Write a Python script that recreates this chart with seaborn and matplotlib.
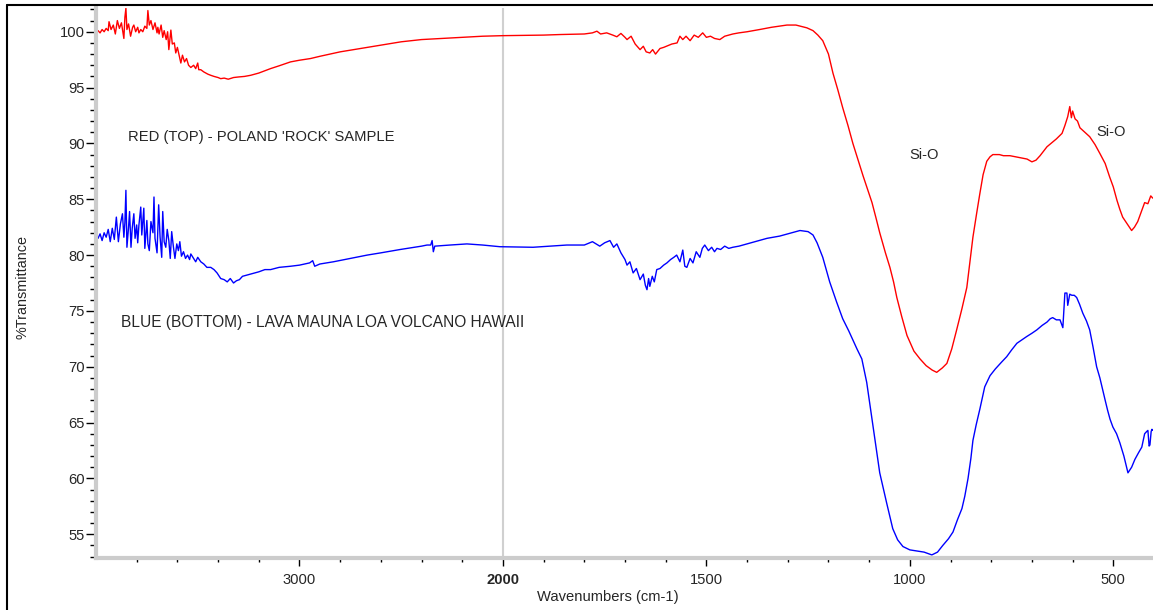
import numpy as np
import pandas as pd
import seaborn as sns
import matplotlib.pyplot as plt
from matplotlib.lines import Line2D

# FTIR spectra: wavenumber (cm-1) and %Transmittance
red_wn = [4000, 3990, 3980, 3970, 3960, 3950, 3940, 3936, 3926, 3915,
          3905, 3895, 3885, 3875, 3863, 3858, 3853, 3848, 3840, 3830,
          3820, 3814, 3805, 3795, 3789, 3780, 3770, 3760, 3750, 3745,
          3738, 3730, 3720, 3710, 3700, 3696, 3690, 3680, 3672, 3665,
          3655, 3648, 3642, 3632, 3625, 3615, 3608, 3600, 3590, 3583,
          3575, 3565, 3555, 3545, 3534, 3520, 3510, 3500, 3495, 3485,
          3470, 3450, 3436, 3420, 3400, 3387, 3370, 3350, 3324, 3300,
          3270, 3240, 3200, 3142, 3100, 3044, 3000, 2946, 2900, 2800,
          2700, 2600, 2500, 2400, 2300, 2200, 2100, 2000, 1900, 1860,
          1800, 1780, 1769, 1760, 1745, 1730, 1720, 1710, 1700, 1695,
          1685, 1675, 1663, 1655, 1648, 1639, 1632, 1625, 1614, 1605,
          1595, 1585, 1572, 1565, 1558, 1550, 1540, 1530, 1520, 1509,
          1500, 1490, 1480, 1467, 1455, 1445, 1435, 1420, 1400, 1369,
          1340, 1302, 1280, 1253, 1238, 1226, 1214, 1200, 1189, 1177,
          1165, 1152, 1140, 1127, 1115, 1104, 1093, 1083, 1074, 1060,
          1049, 1040, 1032, 1020, 1007, 990, 975, 960, 945, 934,
          920, 909, 897, 885, 872, 860, 852, 845, 836, 828,
          820, 811, 803, 796, 780, 770, 754, 740, 725, 712,
          700, 690, 680, 663, 650, 640, 626, 619, 612, 607,
          603, 600, 594, 588, 582, 570, 558, 545, 533, 520,
          509, 500, 491, 484, 477, 466, 455, 448, 440, 432,
          423, 415, 408, 403]
red_t = [100.0, 100.1, 99.9, 100.2, 100.0, 100.3, 100.1, 100.9, 100.2, 100.6,
         99.8, 101.0, 100.3, 100.8, 99.4, 101.3, 102.1, 100.2, 100.7, 99.6,
         100.4, 100.6, 100.0, 100.4, 99.9, 100.2, 100.0, 100.5, 100.3, 101.9,
         100.6, 101.0, 100.2, 100.8, 99.9, 100.4, 99.8, 100.6, 99.5, 100.1,
         99.3, 100.0, 98.4, 100.15, 98.9, 99.0, 98.1, 98.6, 97.8, 97.2,
         97.9, 97.3, 97.6, 97.0, 96.8, 97.0, 96.7, 97.2, 96.6, 96.6,
         96.4, 96.2, 96.1, 96.0, 95.9, 95.8, 95.85, 95.75, 95.9, 95.95,
         96.0, 96.1, 96.3, 96.7, 96.95, 97.3, 97.45, 97.6, 97.8, 98.2,
         98.5, 98.8, 99.1, 99.3, 99.4, 99.5, 99.6, 99.65, 99.7, 99.75,
         99.8, 99.9, 100.05, 99.8, 99.9, 99.7, 99.55, 99.85, 99.5, 99.3,
         99.6, 98.9, 98.4, 98.7, 98.2, 98.1, 98.4, 98.0, 98.5, 98.6,
         98.75, 98.9, 99.0, 99.6, 99.3, 99.6, 99.2, 99.7, 99.5, 99.9,
         99.5, 99.6, 99.4, 99.3, 99.6, 99.7, 99.8, 99.9, 100.0, 100.2,
         100.4, 100.6, 100.6, 100.35, 100.1, 99.7, 99.2, 98.0, 96.3, 94.8,
         93.2, 91.6, 90.0, 88.5, 87.1, 85.9, 84.7, 83.3, 82.0, 80.2,
         78.9, 77.6, 76.2, 74.5, 72.8, 71.4, 70.7, 70.1, 69.7, 69.5,
         69.9, 70.3, 71.6, 73.3, 75.2, 77.1, 79.5, 81.6, 83.7, 85.5,
         87.2, 88.4, 88.8, 89.0, 89.0, 88.9, 88.9, 88.8, 88.7, 88.6,
         88.35, 88.5, 88.9, 89.7, 90.1, 90.4, 90.9, 91.6, 92.4, 93.3,
         92.3, 92.9, 92.2, 92.0, 91.4, 91.0, 90.6, 89.9, 89.1, 88.2,
         87.0, 86.1, 84.9, 84.1, 83.4, 82.8, 82.2, 82.5, 83.0, 83.8,
         84.7, 84.6, 85.3, 85.1]

blue_wn = [4000, 3990, 3980, 3970, 3960, 3950, 3940, 3930, 3920, 3910,
           3900, 3890, 3880, 3870, 3863, 3858, 3853, 3848, 3840, 3835,
           3828, 3822, 3814, 3808, 3800, 3795, 3789, 3780, 3775, 3765,
           3760, 3750, 3745, 3738, 3730, 3720, 3715, 3710, 3700, 3692,
           3685, 3677, 3672, 3665, 3657, 3650, 3642, 3635, 3628, 3620,
           3612, 3603, 3595, 3588, 3580, 3570, 3560, 3550, 3540, 3534,
           3520, 3510, 3500, 3485, 3470, 3455, 3436, 3420, 3405, 3387,
           3370, 3355, 3340, 3324, 3310, 3295, 3280, 3260, 3240, 3200,
           3170, 3142, 3100, 3044, 3000, 2950, 2935, 2925, 2900, 2833,
           2750, 2667, 2600, 2505, 2400, 2373, 2355, 2348, 2342, 2335,
           2300, 2260, 2177, 2100, 2015, 1926, 1843, 1800, 1780, 1762,
           1750, 1737, 1728, 1720, 1710, 1700, 1695, 1688, 1680, 1672,
           1663, 1655, 1650, 1646, 1642, 1639, 1633, 1628, 1622, 1614,
           1605, 1597, 1588, 1580, 1573, 1565, 1558, 1553, 1548, 1540,
           1533, 1525, 1516, 1510, 1504, 1495, 1487, 1480, 1474, 1465,
           1455, 1445, 1435, 1420, 1400, 1380, 1351, 1320, 1300, 1270,
           1250, 1238, 1228, 1214, 1197, 1180, 1165, 1150, 1140, 1130,
           1118, 1106, 1091, 1074, 1057, 1042, 1030, 1017, 1000, 983,
           965, 946, 932, 919, 905, 894, 883, 872, 865, 857,
           850, 845, 837, 828, 816, 803, 790, 775, 762, 750,
           737, 725, 713, 700, 688, 675, 663, 655, 649, 640,
           631, 624, 619, 614, 612, 607, 602, 596, 590, 583,
           575, 566, 558, 550, 541, 533, 526, 520, 514, 508,
           501, 492, 484, 474, 464, 455, 447, 438, 430, 423,
           418, 415, 412, 410, 407, 405, 403]
blue_t = [81.7, 81.5, 81.9, 81.3, 82.0, 81.6, 82.3, 81.2, 82.4, 81.4,
          83.4, 81.2, 82.8, 83.7, 81.6, 82.9, 85.8, 80.7, 82.5, 83.9,
          80.7, 82.4, 83.7, 81.5, 82.7, 81.1, 82.7, 84.3, 81.8, 84.2,
          80.6, 83.1, 81.0, 80.4, 83.0, 82.0, 85.2, 81.5, 80.2, 84.5,
          81.6, 79.8, 83.9, 81.2, 80.7, 82.3, 81.3, 79.7, 82.1, 80.8,
          79.7, 81.0, 80.4, 81.2, 79.9, 80.3, 79.7, 80.0, 79.6, 80.1,
          79.7, 79.4, 79.8, 79.4, 79.2, 78.9, 78.9, 78.7, 78.4, 77.9,
          77.8, 77.6, 77.9, 77.5, 77.7, 77.8, 78.1, 78.2, 78.3, 78.5,
          78.7, 78.7, 78.9, 79.0, 79.1, 79.3, 79.5, 79.0, 79.2, 79.4,
          79.7, 80.0, 80.2, 80.5, 80.8, 80.9, 80.9, 81.3, 80.3, 80.8,
          80.85, 80.9, 81.0, 80.9, 80.75, 80.7, 80.9, 80.9, 81.2, 80.8,
          81.1, 81.3, 80.7, 81.0, 80.2, 79.6, 79.1, 79.4, 78.4, 78.8,
          77.8, 78.3, 77.3, 76.9, 77.9, 77.2, 78.1, 77.6, 78.7, 78.8,
          79.1, 79.3, 79.6, 79.8, 80.0, 79.4, 80.45, 79.0, 78.9, 79.7,
          79.3, 80.3, 79.8, 80.6, 80.9, 80.4, 80.7, 80.3, 80.6, 80.5,
          80.8, 80.6, 80.7, 80.8, 81.0, 81.2, 81.5, 81.7, 81.9, 82.2,
          82.1, 81.8, 81.1, 79.8, 77.6, 75.8, 74.3, 73.2, 72.4, 71.6,
          70.7, 68.6, 64.8, 60.5, 57.8, 55.5, 54.5, 53.9, 53.6, 53.5,
          53.4, 53.15, 53.4, 54.0, 54.6, 55.2, 56.3, 57.3, 58.4, 60.0,
          61.8, 63.4, 64.8, 66.2, 68.2, 69.2, 69.8, 70.4, 70.9, 71.5,
          72.1, 72.4, 72.7, 73.0, 73.3, 73.7, 74.0, 74.3, 74.4, 74.2,
          74.2, 73.5, 76.6, 76.6, 75.5, 76.5, 76.4, 76.4, 76.2, 75.6,
          74.8, 74.1, 73.3, 71.8, 70.0, 69.0, 67.9, 67.0, 66.1, 65.3,
          64.6, 64.0, 63.2, 62.0, 60.5, 61.0, 61.7, 62.3, 62.8, 64.0,
          64.2, 64.3, 62.9, 63.0, 64.2, 64.4, 64.3]

x_major = [3000, 2000, 1500, 1000, 500]
x_minor = [3800, 3600, 3400, 3200, 2800, 2600, 2400, 2200,
           1900, 1800, 1700, 1600, 1400, 1300, 1200, 1100,
           900, 800, 700, 600, 400]
y_major = [55, 60, 65, 70, 75, 80, 85, 90, 95, 100]


# spectrometer-style axis: region above 2000 cm-1 compressed by half
def fwd(x):
    x = np.asarray(x, dtype=float)
    return np.where(x > 2000, 2000 + (x - 2000) * 0.5, x)


def inv(x):
    x = np.asarray(x, dtype=float)
    return np.where(x > 2000, 2000 + (x - 2000) * 2.0, x)


sns.set_style("white")
plt.rcParams['font.family'] = ['Liberation Sans', 'DejaVu Sans']
fs = 10.6

red = pd.DataFrame({'wn': red_wn, 'T': red_t})
blue = pd.DataFrame({'wn': blue_wn, 'T': blue_t})

fig = plt.figure(figsize=(11.53, 6.10), dpi=100)
ax = fig.add_axes([96 / 1153, 52.3 / 610, 1058 / 1153, 549.4 / 610])

ax.set_xscale('function', functions=(fwd, inv))
ax.axvline(2000, color='#d0d0d0', lw=1.5, zorder=0)

sns.lineplot(data=red, x='wn', y='T', color='#ff0000', lw=1.0,
             sort=False, estimator=None, ax=ax)
sns.lineplot(data=blue, x='wn', y='T', color='#0000ff', lw=1.0,
             sort=False, estimator=None, ax=ax)

ax.set_xlim(4000, 400)
ax.set_ylim(52.9, 102.1)

ax.set_xticks(x_major)
ax.set_xticklabels([str(v) for v in x_major])
ax.set_xticks(x_minor, minor=True)
ax.set_yticks(y_major)
ax.set_yticks(np.arange(53, 103, 1), minor=True)
for lab in ax.get_xticklabels():
    if lab.get_text() == '2000':
        lab.set_fontweight('bold')

for side in ['top', 'right']:
    ax.spines[side].set_visible(False)
for side in ['left', 'bottom']:
    ax.spines[side].set_color('#cccccc')
    ax.spines[side].set_linewidth(3)

ax.tick_params(axis='y', which='major', length=7, width=1, color='black',
               direction='out', pad=1, labelsize=fs, left=True)
ax.tick_params(axis='y', which='minor', length=4, width=1, color='black',
               direction='out', left=True)
ax.tick_params(axis='x', which='major', length=6, width=1, color='black',
               direction='out', pad=5, labelsize=fs, bottom=True)
ax.tick_params(axis='x', which='minor', length=3, width=1, color='black',
               direction='out', bottom=True)

ax.set_xlabel('Wavenumbers (cm-1)', fontsize=fs)
ax.set_ylabel('%Transmittance', fontsize=10.4)
ax.xaxis.set_label_coords(0.484, -0.0715)
ax.yaxis.set_label_coords(-0.0699, 0.493)
ax.xaxis.label.set_va('center')
ax.yaxis.label.set_va('center')

ax.text(3843, 90.56, "RED (TOP) - POLAND 'ROCK' SAMPLE", fontsize=fs,
        va='center', ha='left')
ax.text(3877, 74.0, "BLUE (BOTTOM) - LAVA MAUNA LOA VOLCANO HAWAII",
        fontsize=11.2, va='center', ha='left')
ax.text(1002, 88.95, "Si-O", fontsize=fs, va='center', ha='left')
ax.text(542, 91.0, "Si-O", fontsize=fs, va='center', ha='left')

# outer black frame (left and top edges visible in the crop)
fig.add_artist(Line2D([6.5 / 1153, 6.5 / 1153], [0, 1 - 5 / 610],
                      transform=fig.transFigure, color='black', lw=1.5))
fig.add_artist(Line2D([6.5 / 1153, 1], [1 - 5 / 610, 1 - 5 / 610],
                      transform=fig.transFigure, color='black', lw=1.5))

fig.savefig('out.png', dpi=100)
